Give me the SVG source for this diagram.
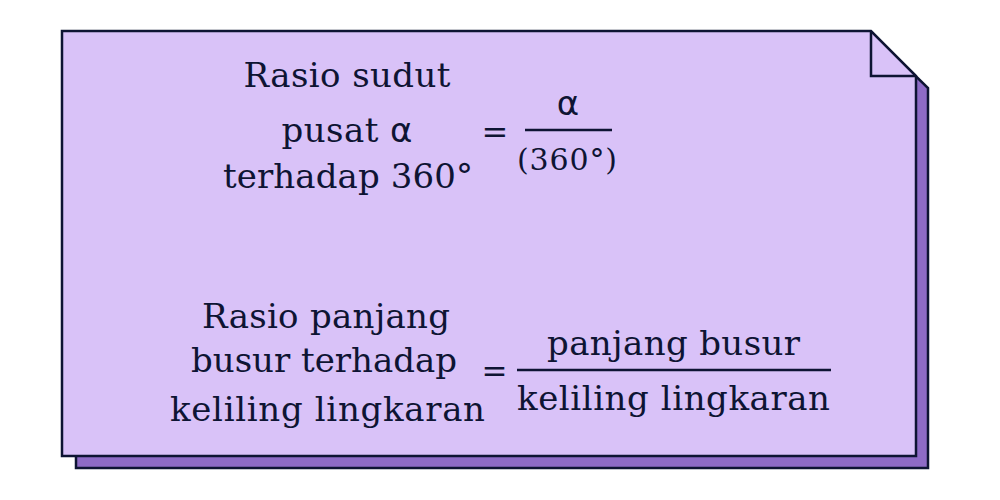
<svg xmlns="http://www.w3.org/2000/svg" width="1000" height="500" viewBox="0 0 1000 500">
  <style>
    .edge { stroke: #0E1433; stroke-width: 2.5; stroke-linejoin: miter; }
    .txt { font-family: "DejaVu Serif", "Liberation Serif", serif; fill: #0E1433; text-anchor: middle; }
    .greek { font-family: "DejaVu Sans", "Noto Sans", sans-serif; }
    .bar { stroke: #0E1433; stroke-width: 2.5; }
  </style>
  <rect width="1000" height="500" fill="#FFFFFF"/>
  <g id="note">
    <polygon class="edge" fill="#8E6BC6" points="76,44 883,44 928,88 928,468 76,468"/>
    <polygon class="edge" fill="#D9C2F8" points="62,31 871,31 916,76 916,456 62,456"/>
    <polyline class="edge" fill="none" points="871,31 871,76 916,76"/>
  </g>
  <g id="formula-angle">
    <text class="txt" x="347" y="87" font-size="34" textLength="207">Rasio sudut</text>
    <text class="txt" x="347" y="142" font-size="34" textLength="131">pusat <tspan class="greek">α</tspan></text>
    <text class="txt" x="348" y="188" font-size="34" textLength="250">terhadap 360°</text>
    <text class="txt" x="495" y="143" font-size="32">=</text>
    <text class="txt greek" x="568" y="115" font-size="34">α</text>
    <line class="bar" x1="525" y1="130" x2="612" y2="130"/>
    <text class="txt" x="567" y="170" font-size="30" textLength="100">(360°)</text>
  </g>
  <g id="formula-arc">
    <text class="txt" x="326" y="328" font-size="34" textLength="248">Rasio panjang</text>
    <text class="txt" x="324" y="372" font-size="34" textLength="266">busur terhadap</text>
    <text class="txt" x="327.5" y="421" font-size="34" textLength="315">keliling lingkaran</text>
    <text class="txt" x="494.5" y="382" font-size="31">=</text>
    <text class="txt" x="673.5" y="355" font-size="34" textLength="253">panjang busur</text>
    <line class="bar" x1="517" y1="370" x2="831" y2="370"/>
    <text class="txt" x="673.5" y="410" font-size="34" textLength="313">keliling lingkaran</text>
  </g>
  <g id="connectors"/>
</svg>
